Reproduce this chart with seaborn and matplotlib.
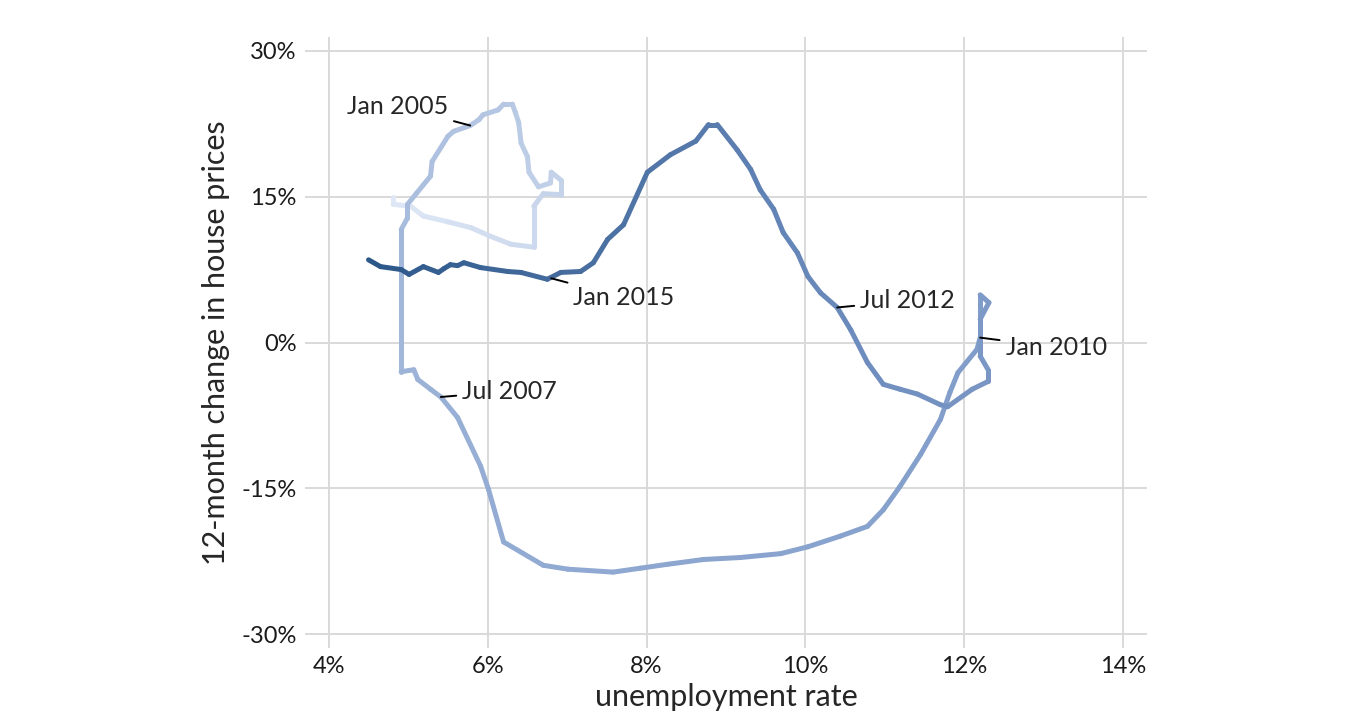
import pandas as pd
import seaborn as sns
import matplotlib.pyplot as plt
from matplotlib.colors import LinearSegmentedColormap

# path: unemployment rate (%), 12-month change in house prices (%), time (decimal year)
unemployment = [
    4.81, 4.81, 5.03, 5.19, 5.50, 5.79, 6.04, 6.29, 6.58, 6.58, 6.70, 6.92, 6.92, 6.80, 6.79,
    6.64, 6.52, 6.50, 6.42, 6.39, 6.35, 6.31, 6.20, 6.13, 5.94, 5.89, 5.78,
    5.57, 5.50, 5.30, 5.28, 5.10, 4.99, 4.99, 4.91, 4.91, 5.07, 5.12, 5.28, 5.41,
    5.62, 5.91, 6.01, 6.20, 6.70, 7.01, 7.58, 7.92, 8.26, 8.72, 9.18, 9.69, 10.03, 10.44,
    10.78, 10.98, 11.19, 11.45, 11.70, 11.82, 11.92, 12.16, 12.20,
    12.20, 12.31, 12.20, 12.20, 12.30, 12.30, 12.10, 11.79, 11.70, 11.41, 11.19, 10.98,
    10.78, 10.57, 10.40,
    10.19, 10.03, 9.90, 9.72, 9.60, 9.43, 9.31, 9.14, 8.89, 8.78, 8.62, 8.30, 8.01,
    7.71, 7.51, 7.33, 7.17, 6.92, 6.75,
    6.42, 6.25, 5.91, 5.70, 5.62, 5.53, 5.45, 5.38, 5.19, 5.01, 4.91, 4.65, 4.50,
]
price_change = [
    15.0, 14.2, 14.0, 13.0, 12.4, 11.8, 10.9, 10.1, 9.8, 14.0, 15.3, 15.2, 16.7, 17.5, 16.4,
    16.0, 17.5, 19.1, 20.5, 22.6, 23.6, 24.5, 24.5, 23.9, 23.4, 22.9, 22.3,
    21.7, 21.2, 18.6, 17.1, 15.3, 14.2, 12.8, 11.6, -3.0, -2.8, -3.8, -4.8, -5.6,
    -7.7, -12.7, -15.1, -20.5, -22.9, -23.3, -23.6, -23.2, -22.8, -22.3, -22.1, -21.7, -21.0, -19.9,
    -18.9, -17.2, -14.8, -11.5, -7.9, -5.1, -3.1, -0.7, 0.5,
    4.9, 4.1, 2.4, -1.4, -2.8, -4.0, -4.8, -6.6, -6.4, -5.3, -4.8, -4.3,
    -2.05, 1.3, 3.6,
    5.1, 6.8, 9.2, 11.3, 13.7, 15.7, 17.8, 19.8, 22.4, 22.4, 20.7, 19.3, 17.5,
    12.1, 10.6, 8.2, 7.3, 7.2, 6.5,
    7.2, 7.3, 7.7, 8.2, 7.9, 8.0, 7.6, 7.2, 7.8, 7.0, 7.5, 7.8, 8.5,
]
date = [
    2001.0, 2001.1, 2001.3, 2001.5, 2001.8, 2002.0, 2002.2, 2002.4, 2002.6, 2003.0, 2003.2, 2003.3, 2003.4, 2003.5, 2003.6,
    2003.7, 2003.9, 2004.0, 2004.2, 2004.35, 2004.45, 2004.55, 2004.65, 2004.75, 2004.85, 2004.92, 2005.0,
    2005.15, 2005.25, 2005.5, 2005.6, 2005.75, 2005.9, 2006.0, 2006.1, 2007.0, 2007.1, 2007.2, 2007.35, 2007.5,
    2007.65, 2007.85, 2007.95, 2008.1, 2008.3, 2008.4, 2008.55, 2008.65, 2008.75, 2008.85, 2008.95, 2009.05, 2009.15, 2009.25,
    2009.35, 2009.45, 2009.55, 2009.65, 2009.75, 2009.82, 2009.88, 2009.95, 2010.0,
    2010.25, 2010.35, 2010.45, 2010.7, 2010.8, 2010.9, 2011.0, 2011.2, 2011.3, 2011.5, 2011.65, 2011.8,
    2011.95, 2012.2, 2012.5,
    2012.6, 2012.7, 2012.8, 2012.95, 2013.05, 2013.2, 2013.3, 2013.45, 2013.6, 2013.7, 2013.85, 2014.0, 2014.15,
    2014.4, 2014.5, 2014.65, 2014.75, 2014.9, 2015.0,
    2015.15, 2015.25, 2015.5, 2015.65, 2015.7, 2015.75, 2015.8, 2015.85, 2016.0, 2016.1, 2016.2, 2016.4, 2016.6,
]

label_text = ["Jan 2005", "Jul 2007", "Jan 2010", "Jul 2012", "Jan 2015"]
label_x = [5.78, 5.41, 12.20, 10.40, 6.80]
label_y = [22.3, -5.6, 0.5, 3.6, 6.6]
label_text_x = [5.50, 5.68, 12.52, 10.69, 7.08]
label_text_y = [24.3, -5.0, -0.5, 4.3, 4.6]
label_ha = ["right", "left", "left", "left", "left"]

x_ticks = [4, 6, 8, 10, 12, 14]
y_ticks = [-30, -15, 0, 15, 30]

# one row pair per segment so that each piece gets its own colour
rows = []
for i in range(len(date) - 1):
    mid = (date[i] + date[i + 1]) / 2
    rows.append((i, unemployment[i], price_change[i], mid))
    rows.append((i, unemployment[i + 1], price_change[i + 1], mid))
segments = pd.DataFrame(rows, columns=["seg", "unemp", "price", "time"])

cmap = LinearSegmentedColormap.from_list(
    "blues", ["#dfe8f6", "#b3c5e2", "#8ca6d0", "#6888ba", "#2b5688"]
)

sns.set_theme(style="whitegrid")
plt.rcParams["font.family"] = ["Lato", "DejaVu Sans"]

fig = plt.figure(figsize=(13.58, 7.24), dpi=100)
ax = fig.add_axes([305 / 1358, 76 / 724, 842 / 1358, 611 / 724])

sns.lineplot(
    data=segments, x="unemp", y="price", hue="time", units="seg",
    estimator=None, sort=False, palette=cmap, hue_norm=(date[0], date[-1]),
    linewidth=3.6, legend=False, solid_capstyle="round", ax=ax,
)

for txt, px, py, tx, ty, ha in zip(label_text, label_x, label_y, label_text_x, label_text_y, label_ha):
    ax.annotate(
        txt, xy=(px, py), xytext=(tx, ty), ha=ha, va="center", fontsize=18,
        arrowprops=dict(arrowstyle="-", color="black", lw=1.4, shrinkA=2, shrinkB=0),
    )

ax.set_xlim(3.7, 14.3)
ax.set_ylim(-31.4, 31.4)
ax.set_xticks(x_ticks)
ax.set_yticks(y_ticks)
ax.set_xticklabels([f"{t}%" for t in x_ticks])
ax.set_yticklabels([f"{t}%" for t in y_ticks])
ax.tick_params(length=0, pad=6, labelsize=17, colors="#1a1a1a")
ax.grid(color="#d9d9d9", linewidth=1.4)
for s in ax.spines.values():
    s.set_visible(False)

ax.set_xlabel("unemployment rate", fontsize=22, labelpad=4)
ax.set_ylabel("12-month change in house prices", fontsize=22, labelpad=8)

fig.savefig("out.png", dpi=100)
